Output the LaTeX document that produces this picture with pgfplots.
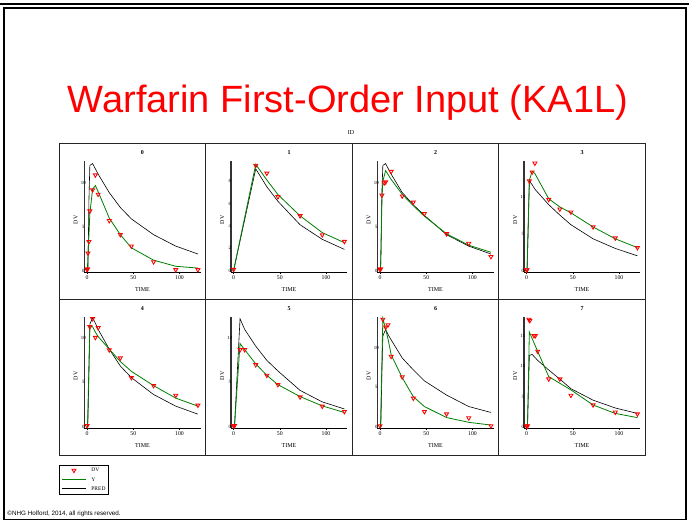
\documentclass[border=0pt]{standalone}
\usepackage{pgfplots}
\pgfplotsset{compat=1.18}
\usepackage{fontspec}
\setmainfont{Liberation Serif}
\newfontfamily\arialfont{Liberation Sans}
\definecolor{ygreen}{RGB}{0,128,0}
\pgfplotsset{
  panel/.style={
    scale only axis, width=116.4pt, height=111pt,
    anchor=south west,
    xmin=-3, xmax=123,
    axis x line*=bottom, axis y line*=left,
    x axis line style={-, line width=0.5pt},
    y axis line style={-, line width=1.4pt, black!80},
    xtick={0,50,100},
    tick align=outside,
    major tick length=2pt,
    xtick style={line width=0.4pt, black},
    ytick style={draw=none},
    /pgf/number format/assume math mode=true,
    xticklabel style={font=\fontsize{5.8}{5.8}\selectfont, inner sep=1pt},
    yticklabel style={font=\fontsize{4.8}{4.8}\selectfont, anchor=center, xshift=1pt, inner sep=0pt},
    every axis title shift=0pt,
    title style={at={(axis description cs:0.5,1.072)}, anchor=center, font=\bfseries\fontsize{6}{6}\selectfont, inner sep=0pt},
    xlabel={TIME},
    xlabel style={at={(axis description cs:0.5,-0.162)}, anchor=center, font=\fontsize{6}{6}\selectfont, inner sep=0pt},
    ylabel={DV},
    ylabel style={at={(axis description cs:-0.074,0.47)}, anchor=center, font=\fontsize{6}{6}\selectfont, inner sep=0pt},
    legend image code/.code={\draw[mark repeat=2,mark phase=2,##1] plot coordinates {(0pt,0pt)(12pt,0pt)(24pt,0pt)};},
  },
  dv/.style={only marks, mark=triangle, mark size=2.3pt, mark options={rotate=180, draw=red, line width=0.85pt}},
  yfit/.style={color=ygreen, draw=ygreen, line width=0.8pt, mark=none},
  pred/.style={color=black, draw=black, line width=0.6pt, mark=none},
}
\begin{document}
\begin{tikzpicture}[x=1pt,y=1pt]
\useasboundingbox (0,0) rectangle (689,521);
\fill[white] (0,0) rectangle (689,521);
\draw[line width=2pt] (0,517.3) -- (689,517.3);
\draw[line width=1.8pt] (3.7,512.8) -- (686,512.8) -- (686,1.5) -- (3.7,1.5) -- cycle;
\node[anchor=base, text=red, font=\arialfont\fontsize{38}{38}\selectfont, inner sep=0pt] at (348,408) {Warfarin First-Order Input (KA1L)};
\node[font=\fontsize{6}{6}\selectfont, inner sep=0pt] at (351,388) {ID};
\draw[line width=0.8pt, black!85] (59,66) rectangle (645,378);
\draw[line width=0.8pt, black!85] (205.5,66) -- (205.5,378) (352,66) -- (352,378) (498.5,66) -- (498.5,378) (59,222) -- (645,222);
\node[anchor=base west, font=\arialfont\fontsize{6.3}{6.3}\selectfont, inner sep=0pt] at (7.3,5.5) {©NHG Holford, 2014, all rights reserved.};

% Panel 0
\begin{axis}[panel, at={(84.3pt,249pt)}, title={0}, ymin=-0.15, ymax=12.5, ytick={0,5,10}]
\addplot[pred] coordinates {(0,0)(0.5,0)(1,0.3)(2,8)(3,12.0)(6,12.2)(9,11.6)(12,11.0)(24,8.9)(36,7.2)(48,5.9)(72,4.1)(96,2.8)(120,1.9)};
\addplot[yfit] coordinates {(0,0)(0.5,0.5)(1,1.8)(2,4.0)(3,6.5)(6,9.3)(9,9.7)(12,9.0)(24,6.0)(36,4.1)(48,2.6)(72,1.2)(96,0.5)(120,0.3)};
\addplot[dv] coordinates {(0,0.1)(0.5,0.2)(1,2.0)(2,3.3)(3,6.8)(6,9.2)(9,10.9)(12,8.7)(24,5.7)(36,4.1)(48,2.8)(72,1.0)(96,0.1)(120,0.1)};
\end{axis}
% Panel 1
\begin{axis}[panel, at={(230.8pt,249pt)}, title={1}, ymin=-0.12, ymax=9.8, ytick={0,2,4,6,8}]
\addplot[pred] coordinates {(0,0)(24,9.1)(36,7.5)(48,6.2)(72,4.1)(96,2.8)(120,1.9)};
\addplot[yfit] coordinates {(0,0)(24,9.5)(36,8.1)(48,6.8)(72,4.9)(96,3.4)(120,2.5)};
\addplot[dv] coordinates {(0,0.1)(24,9.4)(36,8.7)(48,6.6)(72,4.9)(96,3.2)(120,2.6)};
\end{axis}
% Panel 2
\begin{axis}[panel, at={(377.3pt,249pt)}, title={2}, ymin=-0.15, ymax=12.5, ytick={0,5,10}]
\addplot[pred] coordinates {(0,0)(0.5,0)(1,2)(2,9)(3,12.0)(6,12.2)(12,11.0)(24,8.9)(36,7.5)(48,6.3)(72,4.1)(96,2.8)(120,1.9)};
\addplot[yfit] coordinates {(0,0)(0.5,0.2)(2,8.0)(3,10.2)(6,11.4)(12,10.4)(24,8.7)(36,7.4)(48,6.2)(72,4.2)(96,2.9)(120,2.1)};
\addplot[dv] coordinates {(0,0.1)(0.5,0.2)(2,8.6)(4.5,10.0)(6,10.1)(12,11.3)(24,8.5)(36,7.8)(48,6.5)(72,4.2)(96,3.1)(120,1.6)};
\end{axis}
% Panel 3
\begin{axis}[panel, at={(523.8pt,249pt)}, title={3}, ymin=-0.18, ymax=14.8, ytick={0,5,10}]
\addplot[pred] coordinates {(0,0)(0.5,0)(1,2)(3,12.1)(6,11.6)(9,11.0)(24,8.9)(36,7.5)(48,6.2)(72,4.3)(96,3.0)(120,2.0)};
\addplot[yfit] coordinates {(0,0)(0.5,0.1)(3,12.2)(6,13.4)(9,13.1)(24,9.7)(36,8.6)(48,7.8)(72,5.9)(96,4.3)(120,3.1)};
\addplot[dv] coordinates {(0,0.1)(0.5,0.1)(3,12.1)(6,13.3)(9,14.5)(24,9.6)(36,8.3)(48,7.9)(72,5.9)(96,4.4)(120,3.1)};
\end{axis}
% Panel 4
\begin{axis}[panel, at={(84.3pt,93pt)}, title={4}, ymin=-0.15, ymax=12.3, ytick={0,5,10},
  legend style={at={(axis description cs:-0.215,-0.333)}, anchor=north west, draw=black, line width=0.5pt, fill=white,
    font=\fontsize{5.5}{5.5}\selectfont, inner xsep=2pt, inner ysep=2.2pt, row sep=3.3pt,
    nodes={inner sep=0.6pt, text height=3.8pt, text depth=0.9pt},
    /tikz/every odd column/.append style={column sep=4.5pt}},
  legend cell align=left, reverse legend]
\addplot[pred] coordinates {(0,0)(0.5,0)(1,1)(2,6)(3,11.5)(6,12.2)(9,11.6)(12,10.9)(24,8.7)(36,6.8)(48,5.5)(72,3.6)(96,2.3)(120,1.4)};
\addlegendentry{PRED}
\addplot[yfit] coordinates {(0,0)(0.5,0.1)(3,11.3)(6,11.2)(9,10.6)(12,10.1)(24,8.7)(36,7.3)(48,6.2)(72,4.6)(96,3.2)(120,2.3)};
\addlegendentry{Y}
\addplot[dv] coordinates {(0,0.1)(3,11.2)(6,12.1)(9,10.0)(12,11.1)(24,8.6)(36,7.7)(48,5.5)(72,4.6)(96,3.5)(120,2.4)};
\addlegendentry{DV}
\end{axis}
% Panel 5
\begin{axis}[panel, at={(230.8pt,93pt)}, title={5}, ymin=-0.15, ymax=12.4, ytick={0,5,10}]
\addplot[pred] coordinates {(0,0)(1,0)(7,12.2)(12,11.0)(24,9.1)(36,7.5)(48,6.3)(72,4.1)(96,2.8)(120,2.0)};
\addplot[yfit] coordinates {(0,0)(1,0.1)(7,9.4)(12,8.7)(24,7.1)(36,5.8)(48,4.75)(72,3.4)(96,2.35)(120,1.6)};
\addplot[dv] coordinates {(0,0.1)(1,0.1)(7,8.7)(12,8.7)(24,7.0)(36,5.8)(48,4.75)(72,3.35)(96,2.3)(120,1.7)};
\end{axis}
% Panel 6
\begin{axis}[panel, at={(377.3pt,93pt)}, title={6}, ymin=-0.17, ymax=13.9, ytick={0,5,10}]
\addplot[pred] coordinates {(0,0)(0.5,0)(1,1)(2,7)(3,11.5)(6,12.3)(9,11.6)(12,11.0)(24,8.7)(36,7.2)(48,5.8)(72,4.0)(96,2.55)(120,1.8)};
\addplot[yfit] coordinates {(0,0)(0.5,0.1)(3,13.7)(6,12.4)(9,10.9)(12,9.1)(24,6.2)(36,3.8)(48,2.55)(72,1.15)(96,0.55)(120,0.2)};
\addplot[dv] coordinates {(0,0.1)(3,13.6)(6,12.6)(8.6,12.9)(12,8.9)(24,6.3)(36,3.6)(48,1.9)(72,1.6)(96,1.1)(120,0.1)};
\end{axis}
% Panel 7
\begin{axis}[panel, at={(523.8pt,93pt)}, title={7}, ymin=-0.22, ymax=18.2, ytick={0,5,10,15}]
\addplot[pred] coordinates {(0,0)(1,0.2)(3,11.8)(6,12.0)(12,11.0)(24,9.4)(36,7.9)(48,6.3)(72,4.4)(96,3.1)(120,2.2)};
\addplot[yfit] coordinates {(0,0)(1,0.1)(3,15.7)(12,12.5)(24,8.3)(36,7.2)(48,6.1)(72,3.6)(96,2.2)(120,1.5)};
\addplot[dv] coordinates {(0,0.1)(1,0.1)(2.5,17.8)(3.5,17.6)(8,15.1)(9.5,15.1)(12,12.5)(24,7.9)(36,7.9)(48,5.2)(72,3.6)(96,2.4)(120,2.1)};
\end{axis}
\end{tikzpicture}
\end{document}
